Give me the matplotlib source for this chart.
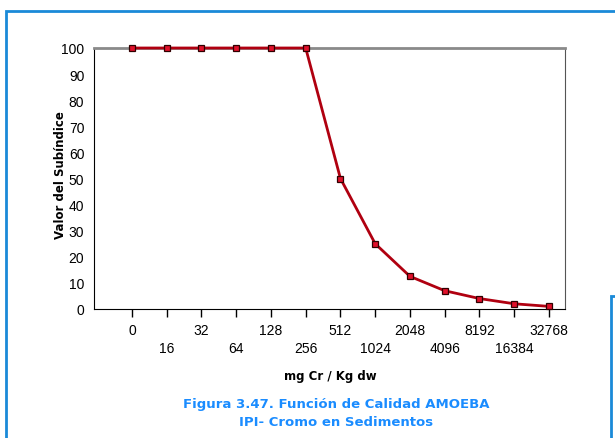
import matplotlib.pyplot as plt
from matplotlib.patches import Rectangle

# datos
concentraciones = ["0", "16", "32", "64", "128", "256", "512", "1024",
                   "2048", "4096", "8192", "16384", "32768"]
valores = [100, 100, 100, 100, 100, 100, 50, 25, 12.5, 7, 4, 2, 1]
yticks = list(range(0, 101, 10))

W, H = 615, 439
fig = plt.figure(figsize=(W / 100, H / 100), dpi=100)
fig.patch.set_facecolor("white")

fuente = ["Liberation Sans Narrow", "Liberation Sans", "DejaVu Sans"]
azul = "#1a8ad8"
# marco azul exterior y caja a la derecha
fig.patches.append(Rectangle((6 / W, -0.05), 1.1, 1 - 12 / H + 0.05, transform=fig.transFigure,
                             fill=False, edgecolor=azul, linewidth=2))
fig.patches.append(Rectangle((611 / W, -0.05), 0.2, 1 - 297 / H + 0.05, transform=fig.transFigure,
                             fill=False, edgecolor=azul, linewidth=2))

ax = fig.add_axes([94 / W, 1 - 310 / H, (565 - 94) / W, (310 - 49) / H])
x = list(range(len(valores)))
ax.plot(x, valores, color="#b00010", linewidth=2.0, zorder=3, clip_on=False)
ax.plot(x, valores, linestyle="none", marker="s", markersize=5,
        markerfacecolor="#e0102a", markeredgecolor="#300000", markeredgewidth=0.9,
        zorder=4, clip_on=False)

ax.set_xlim(-1.09, 12.46)
ax.set_ylim(0, 100)
ax.set_yticks(yticks)
ax.set_yticklabels([str(v) for v in yticks], fontsize=10, family=fuente)
ax.tick_params(axis="y", length=0, pad=7)

ax.set_xticks(x)
ax.set_xticklabels([])
ax.tick_params(axis="x", length=6, width=1, color="black", direction="out")
for i, lab in enumerate(concentraciones):
    dy = -15 if i % 2 == 0 else -28
    ax.annotate(lab, (i, 0), xycoords=("data", "axes fraction"), xytext=(0, dy),
                textcoords="offset points", ha="center", va="center",
                fontsize=10, family=fuente)

ax.spines["left"].set_color("black")
ax.spines["bottom"].set_color("black")
ax.spines["top"].set_color("#8a8a8a")
ax.spines["top"].set_linewidth(2)
ax.spines["right"].set_color("#555555")

fig.text(60 / W, 1 - 175 / H, "Valor del Subíndice", rotation=90,
         ha="center", va="center", fontsize=8.5, fontweight="bold")
fig.text(330 / W, 1 - 377 / H, "mg Cr / Kg dw", ha="center", va="center",
         fontsize=8.5, fontweight="bold")
fig.text(336 / W, 1 - 405 / H, "Figura 3.47. Función de Calidad AMOEBA",
         ha="center", va="center", fontsize=9.5, fontweight="bold", color="#1a8cff")
fig.text(336 / W, 1 - 423 / H, "IPI- Cromo en Sedimentos",
         ha="center", va="center", fontsize=9.5, fontweight="bold", color="#1a8cff")

fig.savefig("out.png", dpi=100)
